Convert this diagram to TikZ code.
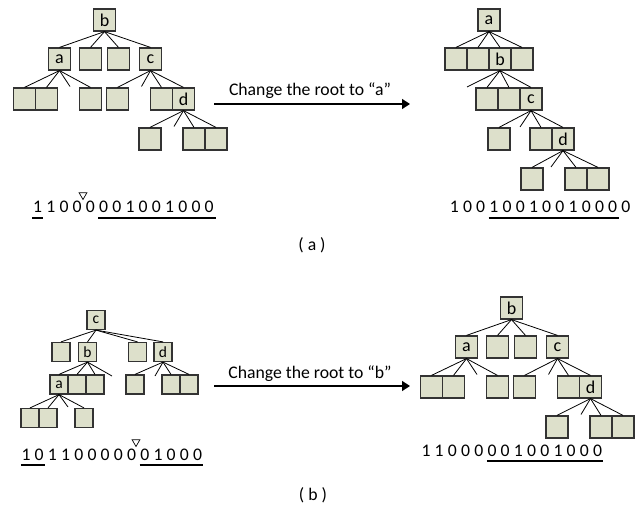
\documentclass[tikz,border=0pt]{standalone}
\usepackage{fontspec}
\setmainfont{Carlito}
\usetikzlibrary{arrows.meta,shapes.geometric}
\definecolor{boxfill}{HTML}{DDE0CB}
\definecolor{boxline}{HTML}{333333}
\tikzset{
  bx/.style={draw=boxline, fill=boxfill, line width=1.2pt, minimum width=22pt,
    minimum height=22pt, inner sep=0pt, font=\fontsize{18}{18}\selectfont},
  sbx/.style={bx, minimum width=18pt, minimum height=19pt,
    font=\fontsize{15.5}{15.5}\selectfont},
  edge/.style={draw=black, line width=0.8pt},
  dig/.style={inner sep=0pt, anchor=base, font=\fontsize{17.7}{17.7}\selectfont},
  uline/.style={line width=2pt},
  marker/.style={regular polygon, regular polygon sides=3, shape border rotate=180,
    draw, line width=0.7pt, minimum size=9pt, inner sep=0pt},
  arr/.style={line width=1.3pt, -{Triangle[length=8pt,width=10pt]}},
  lbl/.style={font=\fontsize{17.7}{17.7}\selectfont, inner sep=0pt, anchor=base},
}
% tree rooted at "b" (before the re-rooting of (a), after that of (b))
\newcommand{\treeRootB}[1]{%
  \node[bx] (#1r) at (104.5,20) {b};
  \node[bx] (#1a) at (59.5,59) {a};
  \node[bx] (#1e1) at (90.5,59) {};
  \node[bx] (#1e2) at (118.5,59) {};
  \node[bx] (#1c) at (150.5,59) {c};
  \node[bx] (#1a1) at (24.5,99) {};
  \node[bx] (#1a2) at (46.5,99) {};
  \coordinate (#1as) at (70,86.5);
  \node[bx] (#1a4) at (90.5,99) {};
  \node[bx] (#1c1) at (117.5,99) {};
  \coordinate (#1cs) at (141.5,86.5);
  \node[bx] (#1c3) at (161.5,99) {};
  \node[bx] (#1d) at (183.5,99) {d};
  \node[bx] (#1d1) at (150,139) {};
  \coordinate (#1ds) at (174,126.5);
  \node[bx] (#1d3) at (194,139) {};
  \node[bx] (#1d4) at (216,139) {};
  \foreach \k in {a,e1,e2,c} \draw[edge] (#1r.south) -- (#1\k.north);
  \foreach \k in {a1,a2,a4} \draw[edge] (#1a.south) -- (#1\k.north);
  \draw[edge] (#1a.south) -- (#1as);
  \foreach \k in {c1,c3,d} \draw[edge] (#1c.south) -- (#1\k.north);
  \draw[edge] (#1c.south) -- (#1cs);
  \foreach \k in {d1,d3,d4} \draw[edge] (#1d.south) -- (#1\k.north);
  \draw[edge] (#1d.south) -- (#1ds);
}
\begin{document}
\begin{tikzpicture}[x=1pt,y=-1pt]
\useasboundingbox (0,0) rectangle (642,508);

% ---------------- (a) ----------------
\treeRootB{P}

% tree rooted at "a"
\node[bx] (Qa) at (489,20) {a};
\node[bx] (Q1) at (456,59) {};
\node[bx] (Q2) at (478,59) {};
\node[bx] (Qb) at (500,59) {b};
\node[bx] (Q4) at (522,59) {};
\coordinate (Qbs) at (467,87);
\node[bx] (Qb2) at (487,99) {};
\node[bx] (Qb3) at (509,99) {};
\node[bx] (Qc) at (531,99) {c};
\node[bx] (Qc1) at (499,139) {};
\coordinate (Qcs) at (520,127);
\node[bx] (Qc3) at (541,139) {};
\node[bx] (Qd) at (563,139) {d};
\node[bx] (Qd1) at (532,179) {};
\coordinate (Qds) at (551,167);
\node[bx] (Qd3) at (576,179) {};
\node[bx] (Qd4) at (598,179) {};
\foreach \k in {1,2,b,4} \draw[edge] (Qa.south) -- (Q\k.north);
\draw[edge] (Qb.south) -- (Qbs);
\foreach \k in {b2,b3,c} \draw[edge] (Qb.south) -- (Q\k.north);
\foreach \k in {c1,c3,d} \draw[edge] (Qc.south) -- (Q\k.north);
\draw[edge] (Qc.south) -- (Qcs);
\foreach \k in {d1,d3,d4} \draw[edge] (Qd.south) -- (Q\k.north);
\draw[edge] (Qd.south) -- (Qds);

% arrow
\coordinate (ArA1) at (214,104);
\coordinate (ArA2) at (410,104);
\draw[arr] (ArA1) -- (ArA2);
\node[lbl] (TxA) at (310,96) {Change the root to “a”};

% bit strings
\foreach \d [count=\i] in {1,1,0,0,0,0,0,1,0,0,1,0,0,0}
  \node[dig] (BA\i) at ({37.6+13.2*(\i-1)},212.5) {\d};
\draw[uline] ([xshift=-0.5pt,yshift=-5.5pt]BA1.base west) -- ([xshift=1pt,yshift=-5.5pt]BA1.base east);
\draw[uline] ([xshift=-0.5pt,yshift=-5.5pt]BA6.base west) -- ([xshift=2pt,yshift=-5.5pt]BA14.base east);
\node[marker] (MA) at (83,195) {};

\foreach \d [count=\i] in {1,0,0,1,0,0,1,0,0,1,0,0,0,0}
  \node[dig] (CA\i) at ({454.3+13.2*(\i-1)},212.5) {\d};
\draw[uline] ([xshift=-0.5pt,yshift=-5.5pt]CA4.base west) -- ([xshift=2pt,yshift=-5.5pt]CA13.base east);

\node[lbl] (CapA) at (312,250) {( a )};

% ---------------- (b) ----------------
% tree rooted at "c"
\node[sbx] (Sc) at (96,320) {c};
\node[sbx] (S1) at (61,352) {};
\node[sbx] (Sb) at (87.5,352) {b};
\node[sbx] (S3) at (137.5,352) {};
\node[sbx] (Sd) at (163,352) {d};
\node[sbx] (Sa) at (59,384.5) {a};
\node[sbx] (Sb2) at (77,384.5) {};
\node[sbx] (Sb3) at (95,384.5) {};
\coordinate (Sbs) at (112,376);
\node[sbx] (Sd1) at (135,384.5) {};
\coordinate (Sds) at (155,376);
\node[sbx] (Sd3) at (171,384.5) {};
\node[sbx] (Sd4) at (189,384.5) {};
\node[sbx] (Sa1) at (30,418) {};
\node[sbx] (Sa2) at (48,418) {};
\coordinate (Sas) at (68,407);
\node[sbx] (Sa4) at (84,418) {};
\foreach \k in {1,b,3,d} \draw[edge] (Sc.south) -- (S\k.north);
\foreach \k in {a,b2,b3} \draw[edge] (Sb.south) -- (S\k.north);
\draw[edge] (Sb.south) -- (Sbs);
\foreach \k in {d1,d3,d4} \draw[edge] (Sd.south) -- (S\k.north);
\draw[edge] (Sd.south) -- (Sds);
\foreach \k in {a1,a2,a4} \draw[edge] (Sa.south) -- (S\k.north);
\draw[edge] (Sa.south) -- (Sas);

\begin{scope}[shift={(407,288)}]
  \treeRootB{T}
\end{scope}

\coordinate (ArB1) at (214,386);
\coordinate (ArB2) at (410,386);
\draw[arr] (ArB1) -- (ArB2);
\node[lbl] (TxB) at (310,378) {Change the root to “b”};

\foreach \d [count=\i] in {1,0,1,1,0,0,0,0,0,0,1,0,0,0}
  \node[dig] (BB\i) at ({26+13.2*(\i-1)},460) {\d};
\draw[uline] ([xshift=-0.5pt,yshift=-5pt]BB1.base west) -- ([xshift=1pt,yshift=-5pt]BB2.base east);
\draw[uline] ([xshift=-0.5pt,yshift=-5pt]BB10.base west) -- ([xshift=1pt,yshift=-5pt]BB14.base east);
\node[marker] (MB) at (136,442) {};

\foreach \d [count=\i] in {1,1,0,0,0,0,0,1,0,0,1,0,0,0}
  \node[dig] (CB\i) at ({426+13.2*(\i-1)},456.5) {\d};
\draw[uline] ([xshift=-0.5pt,yshift=-4pt]CB6.base west) -- ([xshift=1pt,yshift=-4pt]CB14.base east);

\node[lbl] (CapB) at (313,500) {( b )};
\end{tikzpicture}
\end{document}
